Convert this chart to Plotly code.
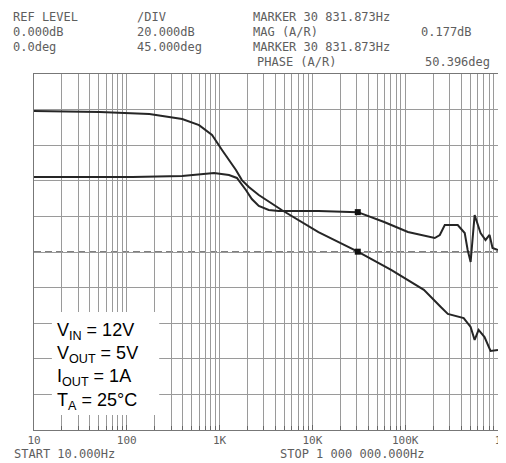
import plotly.graph_objects as go

# ---------------- data ----------------
gain_freq = [10, 51, 175, 395, 601, 829, 1062, 1262, 1500, 1739, 2066, 2644, 4666,
             11620, 30832, 70500, 159000, 242000, 288000, 427000, 507000, 560000,
             618000, 716000, 831000, 1000000]
gain_db = [79.2, 78.7, 77.5, 74.7, 71.3, 65.7, 57.3, 51.7, 46.1, 40.4, 36.5, 32.0, 23.6,
           11.2, 0.18, -10.1, -21.3, -30.9, -34.8, -37.1, -42.1, -49.4,
           -43.8, -47.8, -55.6, -55.0]

phase_freq = [10, 115, 395, 601, 871, 1262, 1359, 1536, 1920, 2225, 2644, 3383, 4333,
              11620, 30832, 59300, 107000, 208000, 236000, 267000, 368000, 438000,
              471000, 507000, 560000, 649000, 734000, 811000, 873000, 1000000]
phase_deg = [94.8, 94.8, 96.1, 98.6, 99.9, 97.3, 96.0, 93.6, 78.4, 67.0, 58.2, 53.1, 51.8,
             51.8, 50.4, 37.9, 25.3, 17.7, 21.5, 34.1, 34.1, 24.0,
             2.5, -12.6, 46.8, 24.0, 15.2, 21.5, 5.1, 2.5]

marker_freq = 30831.873
marker_mag = 0.177
marker_phase = 50.396

decades = [10, 100, 1000, 10000, 100000, 1000000]
decade_labels = ["10", "100", "1K", "10K", "100K", "1"]

header_left = [["REF LEVEL", "/DIV", "MARKER 30 831.873Hz"],
               ["0.000dB", "20.000dB", "MAG (A/R)"],
               ["0.0deg", "45.000deg", "MARKER 30 831.873Hz"],
               ["", "", "PHASE (A/R)"]]
header_right = ["", "0.177dB", "", "50.396deg"]
legend_lines = ["V<sub>IN</sub> = 12V", "V<sub>OUT</sub> = 5V",
                "I<sub>OUT</sub> = 1A", "T<sub>A</sub> = 25°C"]

# ---------------- layout geometry (page pixels) ----------------
W, H = 506, 463
OFF = 8                      # default body margin of the html page
L, R, T, B = 34, 501, 74, 430


def px(x):
    return (x - L) / (R - L)


def py(y):
    return (B - y) / (B - T)


minor_vals = [d * m for d in decades[:-1] for m in range(2, 10)]

curve_col = "#262626"
grid_col = "#9a9a9a"

fig = go.Figure()
fig.add_trace(go.Scatter(x=gain_freq, y=gain_db, mode="lines",
                         line=dict(color=curve_col, width=2), yaxis="y",
                         showlegend=False, hoverinfo="skip"))
fig.add_trace(go.Scatter(x=phase_freq, y=phase_deg, mode="lines",
                         line=dict(color=curve_col, width=2), yaxis="y2",
                         showlegend=False, hoverinfo="skip"))
fig.add_trace(go.Scatter(x=[marker_freq], y=[marker_mag], mode="markers",
                         marker=dict(color="#111", size=6, symbol="square"),
                         yaxis="y", showlegend=False, hoverinfo="skip"))
fig.add_trace(go.Scatter(x=[marker_freq], y=[marker_phase], mode="markers",
                         marker=dict(color="#111", size=6, symbol="square"),
                         yaxis="y2", showlegend=False, hoverinfo="skip"))

mono = "DejaVu Sans Mono"
txt_col = "#5e5e5e"

ann = []
row_y = [17, 32, 47, 62]
col_x = [12, 137, 253]
for r, row in enumerate(header_left):
    for c, s in enumerate(row):
        if s:
            ann.append(dict(x=px(col_x[c] + (4 if (r == 3 and c == 2) else 0)), y=py(row_y[r]),
                            xref="paper", yref="paper", text=s, showarrow=False,
                            xanchor="left", yanchor="middle", borderpad=0,
                            font=dict(family=mono, size=12, color=txt_col)))
right_x = [0, 476, 0, 494]
for r, s in enumerate(header_right):
    if s:
        ann.append(dict(x=px(right_x[r]), y=py(row_y[r]), xref="paper", yref="paper",
                        text=s, showarrow=False, xanchor="right", yanchor="middle",
                        borderpad=0, font=dict(family=mono, size=12, color=txt_col)))

ann.append(dict(x=px(12), y=py(454), xref="paper", yref="paper", text="START 10.000Hz",
                showarrow=False, xanchor="left", yanchor="middle",
                font=dict(family=mono, size=12, color=txt_col)))
ann.append(dict(x=px(280), y=py(454), xref="paper", yref="paper", text="STOP 1 000 000.000Hz",
                showarrow=False, xanchor="left", yanchor="middle",
                font=dict(family=mono, size=12, color=txt_col)))

leg_y = [331, 354, 377, 401]
for s, yy in zip(legend_lines, leg_y):
    ann.append(dict(x=px(55), y=py(yy), xref="paper", yref="paper", text=s,
                    showarrow=False, xanchor="left", yanchor="middle",
                    font=dict(family="Liberation Sans", size=18, color="#000")))

shapes = [
    dict(type="line", xref="paper", yref="y", x0=0, x1=1, y0=0, y1=0,
         line=dict(color="#555", width=1.5, dash="7px,4px"), layer="below"),
    dict(type="rect", xref="paper", yref="paper", x0=px(52), x1=px(160),
         y0=py(415), y1=py(312), fillcolor="white", line=dict(width=0), layer="above"),
]

fig.update_layout(
    width=W - OFF, height=H - OFF,
    margin=dict(l=L - OFF, r=W - R, t=T - OFF, b=H - B),
    paper_bgcolor="white", plot_bgcolor="white",
    showlegend=False,
    xaxis=dict(type="log", range=[1, 6], tickmode="array", tickvals=decades,
               ticktext=decade_labels, showgrid=True, gridcolor=grid_col, gridwidth=1,
               ticks="inside", ticklen=5, tickcolor="#666",
               minor=dict(tickmode="array", tickvals=minor_vals, showgrid=True,
                          gridcolor=grid_col, gridwidth=1, ticks="inside", ticklen=4,
                          tickcolor="#666"),
               showline=True, linecolor="#777", mirror=True,
               tickfont=dict(family=mono, size=11, color=txt_col), zeroline=False),
    yaxis=dict(range=[-100, 100], dtick=20, tick0=0, showticklabels=False,
               showgrid=True, gridcolor=grid_col, gridwidth=1, zeroline=False,
               showline=True, linecolor="#777", mirror=True, ticks=""),
    yaxis2=dict(range=[-225, 225], overlaying="y", side="right", showgrid=False,
                showticklabels=False, zeroline=False, ticks=""),
    annotations=ann,
    shapes=shapes,
)

fig.write_html("out.html")
